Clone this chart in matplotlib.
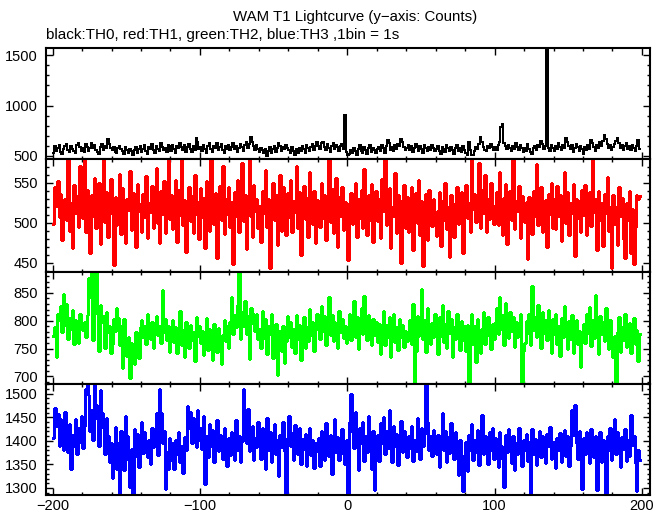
import numpy as np
import matplotlib
matplotlib.use("Agg")
import matplotlib.pyplot as plt
from matplotlib.ticker import MultipleLocator

# counts per 1 s bin, bins start at -200 s
th0 = [
    532, 601, 548, 575, 611, 541, 520, 566, 597, 620, 560, 538, 603, 574, 551, 526, 612, 629, 590, 553,
    579, 541, 616, 592, 553, 575, 627, 583, 605, 557, 544, 522, 589, 619, 562, 600, 577, 670, 623, 582,
    561, 591, 543, 528, 575, 604, 566, 549, 516, 592, 558, 531, 570, 547, 509, 555, 590, 532, 567, 602,
    538, 565, 608, 553, 518, 588, 572, 621, 556, 530, 603, 566, 545, 626, 594, 561, 579, 541, 611, 595,
    549, 613, 566, 527, 600, 576, 631, 592, 557, 610, 544, 586, 622, 570, 538, 601, 560, 681, 636, 571,
    588, 550, 605, 565, 532, 597, 624, 571, 543, 603, 580, 633, 555, 590, 617, 564, 530, 597, 569, 608,
    555, 594, 626, 565, 600, 537, 576, 614, 585, 549, 609, 639, 581, 621, 690, 642, 597, 562, 612, 574,
    542, 583, 560, 525, 565, 502, 547, 593, 532, 573, 603, 540, 576, 630, 598, 551, 588, 567, 609, 581,
    557, 525, 588, 545, 508, 566, 534, 581, 553, 598, 565, 530, 608, 575, 545, 586, 619, 562, 598, 638,
    602, 570, 625, 640, 588, 556, 614, 578, 543, 598, 630, 569, 607, 588, 552, 600, 622, 574, 905, 540,
    508, 520, 560, 527, 583, 548, 513, 571, 605, 553, 530, 591, 558, 520, 576, 610, 543, 578, 555, 525,
    565, 588, 545, 607, 575, 530, 598, 655, 625, 562, 590, 553, 605, 572, 620, 600, 670, 640, 590, 557,
    580, 613, 557, 596, 540, 575, 623, 585, 553, 600, 568, 532, 605, 578, 550, 590, 560, 613, 583, 545,
    573, 603, 550, 517, 585, 565, 537, 605, 575, 545, 590, 557, 522, 578, 613, 550, 580, 535, 595, 562,
    530, 505, 640, 557, 510, 512, 548, 588, 568, 615, 686, 640, 592, 557, 545, 603, 575, 620, 588, 555,
    590, 557, 613, 635, 790, 815, 632, 597, 568, 610, 580, 547, 603, 570, 625, 588, 557, 605, 575, 542,
    582, 552, 615, 572, 535, 515, 575, 595, 557, 605, 588, 650, 620, 565, 600, 1620, 577, 545, 610, 580,
    547, 603, 570, 625, 590, 557, 613, 580, 680, 642, 597, 565, 608, 537, 575, 620, 585, 553, 597, 567,
    522, 590, 557, 605, 572, 660, 625, 588, 552, 610, 575, 640, 595, 650, 710, 665, 620, 580, 613, 557,
    590, 620, 648, 680, 632, 575, 610, 555, 595, 628, 567, 600, 557, 613, 580, 545, 603, 660, 568,
]

th1 = [
    498, 545, 521, 552, 507, 536, 478, 515, 529, 503, 580, 490, 524, 468, 547, 512, 533, 495, 571, 517,
    506, 584, 488, 541, 520, 462, 535, 509, 556, 493, 527, 549, 474, 518, 590, 501, 538, 482, 526, 555,
    511, 447, 532, 497, 520, 561, 486, 543, 508, 475, 529, 516, 564, 491, 537, 502, 470, 548, 514, 523,
    489, 536, 507, 558, 481, 524, 513, 546, 493, 530, 568, 500, 475, 539, 511, 552, 487, 527, 598, 505,
    534, 492, 519, 553, 476, 541, 510, 589, 497, 528, 463, 515, 545, 502, 533, 487, 560, 511, 526, 480,
    543, 507, 531, 469, 552, 514, 490, 582, 524, 498, 537, 456, 520, 546, 503, 571, 486, 529, 511, 544,
    495, 526, 448, 538, 509, 553, 488, 519, 574, 502, 535, 467, 524, 591, 508, 482, 547, 515, 530, 493,
    521, 476, 540, 512, 566, 495, 529, 443, 517, 550, 503, 534, 472, 526, 559, 490, 544, 510, 485, 537,
    507, 553, 488, 527, 513, 571, 494, 538, 460, 522, 546, 505, 531, 482, 563, 516, 499, 540, 475, 528,
    519, 495, 549, 506, 534, 478, 523, 587, 501, 542, 487, 515, 556, 470, 532, 509, 545, 491, 526, 512,
    453, 524, 537, 498, 515, 550, 482, 529, 506, 541, 493, 567, 517, 485, 534, 503, 548, 476, 521, 539,
    502, 530, 481, 555, 514, 596, 497, 526, 543, 469, 519, 508, 562, 487, 535, 511, 450, 528, 547, 494,
    532, 489, 521, 544, 466, 518, 537, 500, 553, 485, 527, 446, 509, 536, 478, 541, 513, 496, 529, 506,
    484, 515, 538, 471, 527, 503, 549, 492, 520, 457, 534, 511, 482, 525, 545, 498, 516, 538, 462, 523,
    547, 506, 524, 489, 582, 517, 536, 501, 529, 575, 494, 541, 512, 560, 488, 530, 505, 549, 522, 498,
    516, 538, 497, 563, 510, 485, 531, 548, 474, 520, 539, 503, 590, 492, 527, 514, 546, 481, 533, 508,
    501, 526, 455, 532, 518, 486, 540, 509, 573, 497, 523, 544, 489, 515, 528, 470, 536, 511, 550, 494,
    529, 492, 546, 508, 534, 477, 519, 563, 500, 538, 485, 524, 512, 548, 459, 530, 506, 527, 489, 541,
    510, 547, 485, 521, 538, 496, 581, 513, 529, 466, 540, 503, 525, 471, 536, 512, 557, 490, 519, 443,
    534, 498, 520, 472, 545, 508, 531, 480, 456, 524, 503, 539, 462, 517, 448, 495, 535, 529, 533,
]

th2 = [
    772, 788, 735, 812, 801, 826, 779, 848, 793, 830, 768, 805, 786, 819, 758, 801, 775, 760, 812, 790,
    784, 798, 771, 810, 876, 842, 897, 765, 868, 894, 812, 745, 829, 797, 808, 752, 815, 779, 790, 743,
    758, 803, 781, 822, 805, 757, 790, 716, 803, 751, 736, 770, 698, 760, 741, 722, 779, 756, 733, 788,
    802, 771, 790, 758, 812, 783, 767, 797, 752, 785, 809, 774, 791, 760, 855, 779, 803, 766, 790, 744,
    778, 801, 762, 789, 742, 770, 817, 756, 784, 735, 798, 771, 752, 793, 765, 780, 728, 806, 773, 790,
    760, 782, 739, 771, 805, 748, 786, 763, 729, 795, 772, 744, 787, 758, 722, 775, 801, 763, 790, 752,
    798, 843, 776, 810, 789, 829, 885, 768, 816, 791, 835, 777, 808, 731, 822, 796, 812, 781, 812, 767,
    785, 752, 818, 769, 803, 741, 790, 776, 812, 733, 768, 795, 702, 758, 781, 746, 790, 725, 764, 809,
    771, 797, 753, 785, 742, 810, 767, 793, 729, 778, 806, 752, 789, 764, 821, 775, 798, 746, 783, 812,
    796, 768, 827, 781, 809, 757, 793, 842, 775, 811, 764, 798, 786, 752, 817, 779, 803, 769, 791, 760,
    784, 812, 765, 798, 835, 771, 806, 750, 789, 823, 777, 845, 792, 765, 810, 781, 756, 803, 774, 798,
    762, 795, 740, 781, 818, 756, 793, 770, 806, 735, 779, 812, 762, 789, 748, 804, 771, 793, 753, 782,
    763, 776, 801, 758, 830, 690, 746, 809, 772, 792, 857, 768, 801, 744, 823, 781, 759, 796, 770, 812,
    785, 740, 806, 773, 829, 762, 795, 751, 817, 778, 804, 735, 789, 768, 812, 783, 747, 799, 766, 790,
    745, 793, 688, 771, 812, 758, 790, 726, 803, 769, 742, 786, 815, 759, 781, 806, 773, 750, 795, 768,
    797, 823, 776, 842, 785, 810, 757, 831, 791, 769, 815, 782, 806, 753, 798, 770, 789, 812, 690, 745,
    760, 799, 778, 812, 757, 863, 784, 806, 771, 829, 790, 752, 815, 778, 801, 765, 820, 789, 742, 803,
    776, 812, 758, 790, 737, 805, 770, 826, 785, 750, 799, 768, 811, 743, 787, 802, 759, 781, 717, 773,
    794, 760, 813, 778, 825, 754, 802, 769, 846, 787, 741, 809, 776, 798, 763, 822, 785, 750, 801, 768,
    735, 772, 690, 779, 806, 744, 788, 765, 812, 753, 781, 796, 742, 770, 805, 758, 783, 727, 776,
]

th3 = [
    1405, 1470, 1432, 1458, 1389, 1447, 1401, 1380, 1462, 1418, 1376, 1435, 1341, 1412, 1390, 1446, 1373, 1427, 1398, 1453,
    1385, 1432, 1510, 1525, 1498, 1421, 1466, 1402, 1519, 1475, 1446, 1390, 1507, 1460, 1428, 1373, 1449, 1410, 1356, 1395,
    1322, 1368, 1430, 1341, 1395, 1290, 1420, 1376, 1338, 1452, 1410, 1359, 1303, 1382, 1290, 1426, 1368, 1415, 1345, 1392,
    1440, 1375, 1418, 1396, 1365, 1402, 1351, 1427, 1386, 1412, 1460, 1370, 1510, 1459, 1395, 1420, 1298, 1376, 1341, 1405,
    1360, 1395, 1341, 1402, 1372, 1418, 1355, 1390, 1331, 1409, 1380, 1473, 1427, 1462, 1395, 1448, 1410, 1386, 1465, 1402,
    1427, 1382, 1453, 1309, 1410, 1366, 1435, 1390, 1422, 1354, 1401, 1445, 1378, 1412, 1395, 1362, 1428, 1384, 1347, 1406,
    1370, 1418, 1392, 1359, 1445, 1381, 1410, 1354, 1400, 1510, 1426, 1396, 1468, 1379, 1413, 1432, 1360, 1405, 1387, 1441,
    1391, 1362, 1427, 1405, 1340, 1449, 1380, 1418, 1355, 1397, 1436, 1371, 1402, 1325, 1413, 1386, 1441, 1378, 1283, 1406,
    1452, 1389, 1417, 1360, 1434, 1395, 1372, 1428, 1351, 1404, 1383, 1415, 1346, 1390, 1427, 1369, 1401, 1342, 1396, 1378,
    1405, 1346, 1421, 1388, 1359, 1437, 1394, 1368, 1413, 1330, 1399, 1446, 1377, 1409, 1360, 1392, 1425, 1371, 1350, 1402,
    1290, 1440, 1499, 1418, 1385, 1461, 1402, 1339, 1427, 1395, 1440, 1358, 1410, 1376, 1453, 1387, 1341, 1420, 1295, 1380,
    1412, 1358, 1437, 1396, 1451, 1371, 1420, 1384, 1466, 1401, 1355, 1432, 1389, 1415, 1348, 1408, 1443, 1376, 1421, 1393,
    1366, 1410, 1385, 1432, 1357, 1402, 1378, 1449, 1395, 1362, 1427, 1390, 1414, 1523, 1441, 1380, 1410, 1367, 1423, 1398,
    1372, 1412, 1345, 1398, 1460, 1380, 1421, 1355, 1409, 1375, 1438, 1391, 1361, 1418, 1384, 1327, 1402, 1370, 1293, 1356,
    1398, 1337, 1412, 1380, 1436, 1359, 1402, 1376, 1423, 1348, 1395, 1455, 1371, 1410, 1386, 1351, 1418, 1380, 1427, 1362,
    1405, 1372, 1344, 1418, 1390, 1361, 1302, 1412, 1377, 1425, 1383, 1352, 1410, 1338, 1395, 1372, 1428, 1390, 1346, 1402,
    1380, 1415, 1357, 1398, 1287, 1426, 1371, 1404, 1348, 1390, 1421, 1366, 1410, 1379, 1352, 1415, 1389, 1430, 1362, 1398,
    1374, 1342, 1406, 1381, 1417, 1355, 1399, 1423, 1368, 1410, 1346, 1389, 1465, 1412, 1475, 1396, 1362, 1420, 1384, 1297,
    1405, 1371, 1418, 1387, 1352, 1426, 1395, 1365, 1411, 1296, 1383, 1418, 1355, 1402, 1372, 1289, 1410, 1381, 1427, 1360,
    1396, 1446, 1372, 1418, 1390, 1345, 1409, 1382, 1426, 1357, 1401, 1368, 1455, 1392, 1410, 1352, 1294, 1380, 1360,
]

series = [th0, th1, th2, th3]
colors = ["black", "#ff0000", "#00ff00", "#0000ff"]
ylims = [(467, 1577), (439, 579), (686, 888), (1285, 1520)]
ymajor = [500, 50, 50, 50]
yminor = [100, 10, 10, 10]

plt.rcParams["font.family"] = ["Liberation Sans", "DejaVu Sans"]
plt.rcParams["axes.unicode_minus"] = True

fig = plt.figure(figsize=(6.69, 5.15), dpi=100)

left, width = 46 / 669, (650 - 46) / 669
tops = [47.5, 159.3, 271.7, 384.3, 495.0]

edges = np.arange(-200, -200 + len(th0) + 1)

for i, vals in enumerate(series):
    bottom = 1 - tops[i + 1] / 515
    height = (tops[i + 1] - tops[i]) / 515
    ax = fig.add_axes([left, bottom, width, height])
    # step curve, repeat last value so the final bin gets its full width
    ax.plot(edges, list(vals) + [vals[-1]], drawstyle="steps-post", color=colors[i],
            lw=1.1 if i == 0 else 0.85, antialiased=False)
    ax.set_xlim(-204.5, 205.5)
    ax.set_ylim(*ylims[i])
    ax.xaxis.set_major_locator(MultipleLocator(100))
    ax.xaxis.set_minor_locator(MultipleLocator(20))
    ax.yaxis.set_major_locator(MultipleLocator(ymajor[i]))
    ax.yaxis.set_minor_locator(MultipleLocator(yminor[i]))
    ax.tick_params(which="both", direction="in", top=True, right=True, width=1.0)
    ax.tick_params(which="major", length=5, labelsize=10.5, pad=6)
    ax.tick_params(axis="x", which="major", pad=3)
    ax.tick_params(which="minor", length=2.5)
    for sp in ax.spines.values():
        sp.set_linewidth(1.5)
    if i < 3:
        ax.tick_params(labelbottom=False)

fig.text(355 / 669, 1 - 17 / 515, "WAM T1 Lightcurve (y\u2212axis: Counts)",
         ha="center", va="center", fontsize=10.8)
fig.text(46 / 669, 1 - 35 / 515, "black:TH0, red:TH1, green:TH2, blue:TH3 ,1bin = 1s",
         ha="left", va="center", fontsize=11)

fig.savefig("out.png", dpi=100)
